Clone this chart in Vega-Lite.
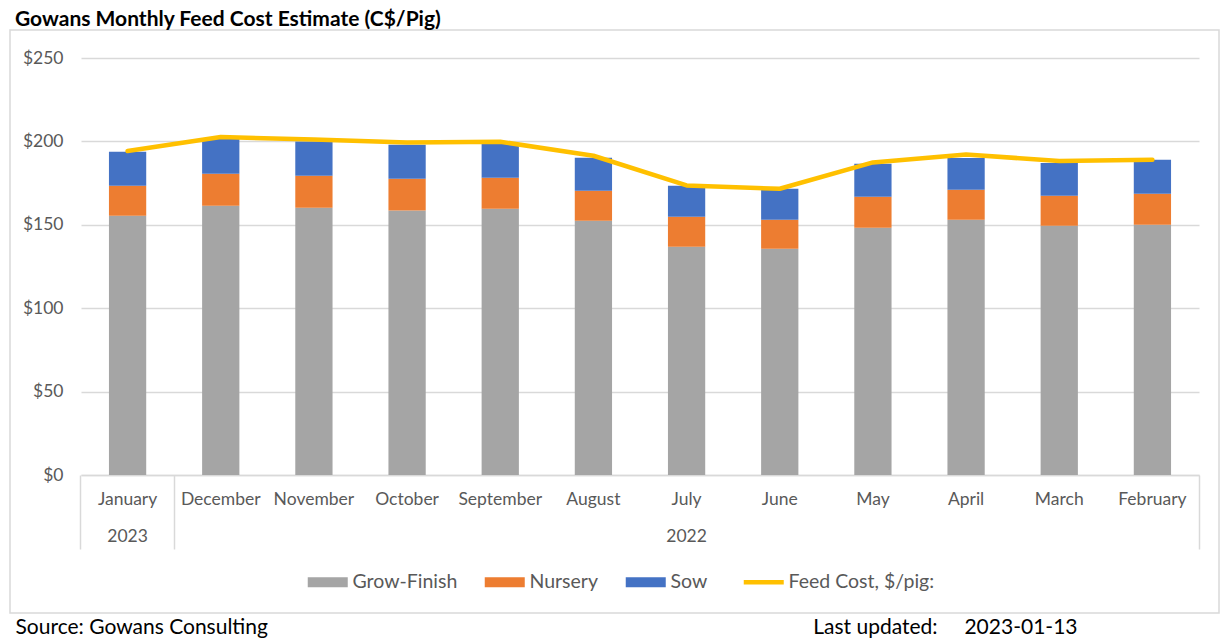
{
  "$schema": "https://vega.github.io/schema/vega-lite/v6.json",
  "width": 1209,
  "height": 583,
  "autosize": {"type": "none"},
  "padding": {"left": 10, "top": 30, "right": 8, "bottom": 28},
  "background": "white",
  "config": {"font": "Lato", "view": {"stroke": "#D9D9D9", "strokeWidth": 1.5}},
  "title": {
    "text": "Gowans Monthly Feed Cost Estimate (C$/Pig)",
    "anchor": "start",
    "frame": "group",
    "dx": 5,
    "offset": -17,
    "fontSize": 21,
    "fontWeight": "bold",
    "color": "#000000",
    "font": "Lato",
    "baseline": "alphabetic"
  },
  "datasets": {
    "segments": [
      {"month": "January", "component": "Grow-Finish", "value": 155.4},
      {"month": "January", "component": "Nursery", "value": 18.0},
      {"month": "January", "component": "Sow", "value": 20.4},
      {"month": "December", "component": "Grow-Finish", "value": 161.4},
      {"month": "December", "component": "Nursery", "value": 19.2},
      {"month": "December", "component": "Sow", "value": 21.4},
      {"month": "November", "component": "Grow-Finish", "value": 160.2},
      {"month": "November", "component": "Nursery", "value": 19.2},
      {"month": "November", "component": "Sow", "value": 20.6},
      {"month": "October", "component": "Grow-Finish", "value": 158.6},
      {"month": "October", "component": "Nursery", "value": 19.0},
      {"month": "October", "component": "Sow", "value": 20.4},
      {"month": "September", "component": "Grow-Finish", "value": 159.6},
      {"month": "September", "component": "Nursery", "value": 18.6},
      {"month": "September", "component": "Sow", "value": 20.4},
      {"month": "August", "component": "Grow-Finish", "value": 152.4},
      {"month": "August", "component": "Nursery", "value": 18.0},
      {"month": "August", "component": "Sow", "value": 19.8},
      {"month": "July", "component": "Grow-Finish", "value": 136.8},
      {"month": "July", "component": "Nursery", "value": 18.0},
      {"month": "July", "component": "Sow", "value": 18.6},
      {"month": "June", "component": "Grow-Finish", "value": 135.6},
      {"month": "June", "component": "Nursery", "value": 17.4},
      {"month": "June", "component": "Sow", "value": 18.6},
      {"month": "May", "component": "Grow-Finish", "value": 148.2},
      {"month": "May", "component": "Nursery", "value": 18.6},
      {"month": "May", "component": "Sow", "value": 19.8},
      {"month": "April", "component": "Grow-Finish", "value": 153.0},
      {"month": "April", "component": "Nursery", "value": 18.0},
      {"month": "April", "component": "Sow", "value": 19.0},
      {"month": "March", "component": "Grow-Finish", "value": 149.4},
      {"month": "March", "component": "Nursery", "value": 18.0},
      {"month": "March", "component": "Sow", "value": 19.6},
      {"month": "February", "component": "Grow-Finish", "value": 150.0},
      {"month": "February", "component": "Nursery", "value": 18.6},
      {"month": "February", "component": "Sow", "value": 20.4}
    ],
    "cost": [
      {"month": "January", "cost": 194.2},
      {"month": "December", "cost": 202.6},
      {"month": "November", "cost": 201.2},
      {"month": "October", "cost": 199.4},
      {"month": "September", "cost": 199.8},
      {"month": "August", "cost": 191.4},
      {"month": "July", "cost": 173.6},
      {"month": "June", "cost": 171.6},
      {"month": "May", "cost": 187.4},
      {"month": "April", "cost": 192.2},
      {"month": "March", "cost": 188.2},
      {"month": "February", "cost": 189.0}
    ]
  },
  "layer": [
    {
      "data": {"name": "segments"},
      "mark": {"type": "bar"},
      "encoding": {
        "x": {
          "field": "month",
          "type": "nominal",
          "scale": {
            "domain": ["January", "December", "November", "October", "September", "August", "July", "June", "May", "April", "March", "February"],
            "range": [71, 1189],
            "paddingInner": 0.6,
            "paddingOuter": 0.3
          },
          "axis": {
            "orient": "bottom",
            "offset": -138,
            "title": "Source: Gowans Consulting",
            "titleX": 5,
            "titleY": 158.5,
            "titleAlign": "left",
            "titleBaseline": "alphabetic",
            "titleFontSize": 21,
            "titleFontWeight": "normal",
            "titleColor": "#000000",
            "titleFont": "Lato",
            "labelExpr": "datum.value === 'January' ? ['January', '2023'] : datum.value === 'July' ? ['July', '2022'] : datum.value",
            "labelAngle": 0,
            "labelBaseline": "top",
            "labelLineHeight": 37,
            "labelFontSize": 17.5,
            "labelColor": "#595959",
            "labelPadding": -59,
            "labelOverlap": false,
            "domainColor": "#D9D9D9",
            "domainWidth": 1.5,
            "ticks": true,
            "tickSize": 74,
            "tickWidth": 1.5,
            "bandPosition": 1.75,
            "tickColor": {"condition": {"test": "datum.value === 'January' || datum.value === 'February'", "value": "#D9D9D9"}, "value": "transparent"},
            "grid": false
          }
        },
        "y": {
          "field": "value",
          "type": "quantitative",
          "stack": "zero",
          "scale": {"domain": [0, 250], "nice": false, "range": [445, 28]},
          "axis": {
            "title": null,
            "values": [0, 50, 100, 150, 200, 250],
            "format": "$.0f",
            "domain": false,
            "ticks": false,
            "grid": true,
            "gridColor": "#D9D9D9",
            "gridWidth": 1.5,
            "labelFontSize": 17.5,
            "labelColor": "#595959",
            "labelPadding": -53
          }
        },
        "color": {
          "field": "component",
          "type": "nominal",
          "scale": {
            "domain": ["Grow-Finish", "Nursery", "Sow", "Feed Cost, $/pig:"],
            "range": ["#A5A5A5", "#ED7D31", "#4472C4", "#FFC000"]
          },
          "legend": {
            "orient": "none",
            "legendX": 308,
            "legendY": 542,
            "direction": "horizontal",
            "title": null,
            "padding": 0,
            "labelFontSize": 19.5,
            "labelColor": "#595959",
            "labelFont": "Lato",
            "symbolSize": 1600,
            "columnPadding": 26,
            "labelOffset": 15,
            "encode": {
              "symbols": {
                "update": {
                  "shape": {"signal": "datum.value === 'Feed Cost, $/pig:' ? 'M-1,0H1' : 'M-1,-0.25H1V0.25H-1Z'"},
                  "fill": {"signal": "datum.value === 'Feed Cost, $/pig:' ? 'transparent' : scale('color', datum.value)"},
                  "stroke": {"signal": "scale('color', datum.value)"},
                  "strokeWidth": {"signal": "datum.value === 'Feed Cost, $/pig:' ? 4.5 : 0"},
                  "opacity": {"value": 1}
                }
              }
            }
          }
        },
        "order": {"field": "component", "sort": "ascending"}
      }
    },
    {
      "data": {"name": "cost"},
      "mark": {"type": "line", "strokeWidth": 4.5, "strokeCap": "round", "strokeJoin": "round"},
      "encoding": {
        "x": {
          "field": "month",
          "type": "nominal",
          "axis": {
            "orient": "bottom",
            "offset": -138,
            "values": ["January"],
            "bandPosition": -0.75,
            "labels": false,
            "domain": false,
            "ticks": true,
            "tickSize": 74,
            "tickWidth": 1.5,
            "tickColor": "#D9D9D9",
            "grid": false,
            "title": "Last updated:\u00a0\u00a0\u00a0\u00a0\u00a02023-01-13",
            "titleX": 1067,
            "titleY": 158.5,
            "titleAlign": "right",
            "titleBaseline": "alphabetic",
            "titleFontSize": 21,
            "titleFontWeight": "normal",
            "titleColor": "#000000",
            "titleFont": "Lato"
          }
        },
        "y": {"field": "cost", "type": "quantitative"},
        "color": {"datum": "Feed Cost, $/pig:", "type": "nominal"}
      }
    }
  ],
  "resolve": {"axis": {"x": "independent"}}
}
